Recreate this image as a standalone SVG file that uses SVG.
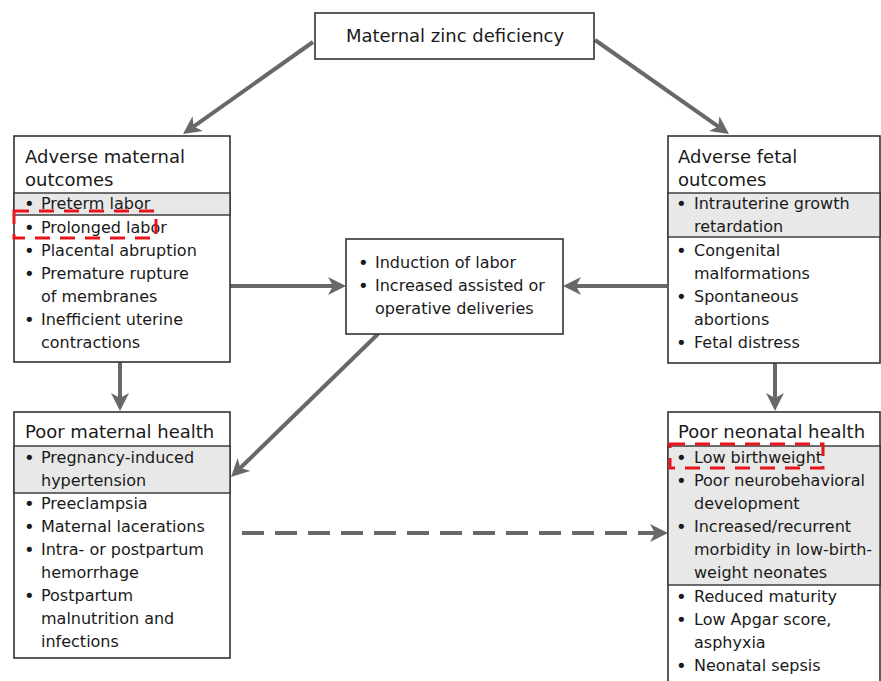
<svg xmlns="http://www.w3.org/2000/svg" width="881" height="681" viewBox="0 0 881 681">
<defs>
<style>
.box{fill:#fff;stroke:#333;stroke-width:1.6}
.gray{fill:#e8e8e8;stroke:#333;stroke-width:1.4}
.t{font-family:"DejaVu Sans",sans-serif;font-size:18px;fill:#1a1a1a}
.i{font-family:"DejaVu Sans",sans-serif;font-size:16px;fill:#1a1a1a}
.b{font-size:18px}
.conn{stroke:#686868;stroke-width:4;fill:none}
.dash{stroke-dasharray:22 11}
.hl{fill:none;stroke:#e8141c;stroke-width:3;stroke-dasharray:15 10}
</style>
<marker id="ah" markerUnits="userSpaceOnUse" markerWidth="20" markerHeight="20" refX="13" refY="9" orient="auto">
<path d="M0,0 L18,9 L0,18 L5,9 z" fill="#686868"/>
</marker>
</defs>
<rect width="881" height="681" fill="#fff"/>

<g id="connectors">
<line class="conn" x1="313" y1="42" x2="187.1" y2="131.1" marker-end="url(#ah)"/>
<line class="conn" x1="595" y1="40" x2="724.9" y2="131.1" marker-end="url(#ah)"/>
<line class="conn" x1="120" y1="362" x2="120" y2="406" marker-end="url(#ah)"/>
<line class="conn" x1="775" y1="363" x2="775" y2="406" marker-end="url(#ah)"/>
<line class="conn" x1="230" y1="286" x2="341" y2="286" marker-end="url(#ah)"/>
<line class="conn" x1="667" y1="286" x2="568" y2="286" marker-end="url(#ah)"/>
<line class="conn" x1="378" y1="334" x2="234.6" y2="473.5" marker-end="url(#ah)"/>
<line class="conn dash" x1="242" y1="533" x2="663" y2="533" marker-end="url(#ah)"/>
</g>

<g id="zinc">
<rect class="box" x="315" y="13" width="279" height="46"/>
<text class="t" x="455" y="42" text-anchor="middle" font-size="19">Maternal zinc deficiency</text>
</g>

<g id="maternal-outcomes">
<rect class="box" x="14" y="136" width="216" height="226"/>
<rect class="gray" x="14" y="193" width="216" height="22"/>
<text class="t" x="25" y="163">Adverse maternal</text>
<text class="t" x="25" y="186">outcomes</text>
<g class="i">
<text class="b" x="24" y="210">•</text><text x="41" y="209">Preterm labor</text>
<text class="b" x="24" y="234">•</text><text x="41" y="233">Prolonged labor</text>
<text class="b" x="24" y="257">•</text><text x="41" y="256">Placental abruption</text>
<text class="b" x="24" y="280">•</text><text x="41" y="279">Premature rupture</text>
<text x="41" y="302">of membranes</text>
<text class="b" x="24" y="326">•</text><text x="41" y="325">Inefficient uterine</text>
<text x="41" y="348">contractions</text>
</g>
<rect class="hl" x="14" y="211" width="142" height="27"/>
</g>

<g id="fetal-outcomes">
<rect class="box" x="668" y="136" width="212" height="227"/>
<rect class="gray" x="668" y="193" width="212" height="44"/>
<text class="t" x="678" y="163">Adverse fetal</text>
<text class="t" x="678" y="186">outcomes</text>
<g class="i">
<text class="b" x="676" y="210">•</text><text x="694" y="209">Intrauterine growth</text>
<text x="694" y="232">retardation</text>
<text class="b" x="676" y="257">•</text><text x="694" y="256">Congenital</text>
<text x="694" y="279">malformations</text>
<text class="b" x="676" y="303">•</text><text x="694" y="302">Spontaneous</text>
<text x="694" y="325">abortions</text>
<text class="b" x="676" y="349">•</text><text x="694" y="348">Fetal distress</text>
</g>
</g>

<g id="delivery">
<rect class="box" x="346" y="239" width="217" height="95"/>
<g class="i">
<text class="b" x="358" y="269">•</text><text x="375" y="268">Induction of labor</text>
<text class="b" x="358" y="292">•</text><text x="375" y="291">Increased assisted or</text>
<text x="375" y="314">operative deliveries</text>
</g>
</g>

<g id="maternal-health">
<rect class="box" x="14" y="412" width="216" height="246"/>
<rect class="gray" x="14" y="446" width="216" height="47"/>
<text class="t" x="25" y="438">Poor maternal health</text>
<g class="i">
<text class="b" x="24" y="464">•</text><text x="41" y="463">Pregnancy-induced</text>
<text x="41" y="486">hypertension</text>
<text class="b" x="24" y="510">•</text><text x="41" y="509">Preeclampsia</text>
<text class="b" x="24" y="533">•</text><text x="41" y="532">Maternal lacerations</text>
<text class="b" x="24" y="556">•</text><text x="41" y="555">Intra- or postpartum</text>
<text x="41" y="578">hemorrhage</text>
<text class="b" x="24" y="602">•</text><text x="41" y="601">Postpartum</text>
<text x="41" y="624">malnutrition and</text>
<text x="41" y="647">infections</text>
</g>
</g>

<g id="neonatal-health">
<rect class="box" x="668" y="412" width="212" height="290"/>
<rect class="gray" x="668" y="446" width="212" height="139"/>
<text class="t" x="678" y="438">Poor neonatal health</text>
<g class="i">
<text class="b" x="676" y="464">•</text><text x="694" y="463">Low birthweight</text>
<text class="b" x="676" y="487">•</text><text x="694" y="486">Poor neurobehavioral</text>
<text x="694" y="509">development</text>
<text class="b" x="676" y="533">•</text><text x="694" y="532">Increased/recurrent</text>
<text x="694" y="555">morbidity in low-birth-</text>
<text x="694" y="578">weight neonates</text>
<text class="b" x="676" y="603">•</text><text x="694" y="602">Reduced maturity</text>
<text class="b" x="676" y="626">•</text><text x="694" y="625">Low Apgar score,</text>
<text x="694" y="648">asphyxia</text>
<text class="b" x="676" y="672">•</text><text x="694" y="671">Neonatal sepsis</text>
</g>
<rect class="hl" x="670" y="444" width="153" height="24"/>
</g>
</svg>
